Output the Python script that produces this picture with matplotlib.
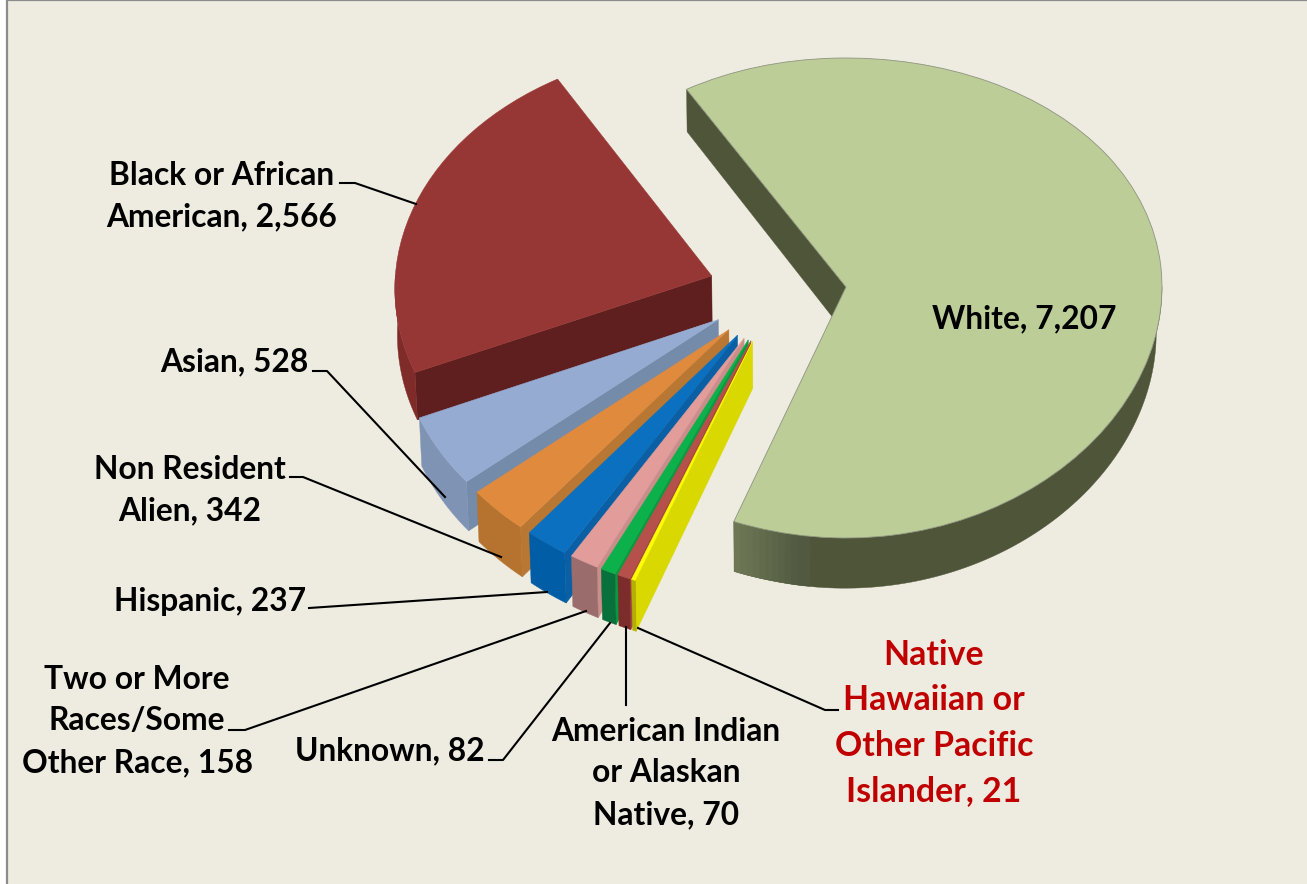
import numpy as np
import matplotlib
matplotlib.use('Agg')
import matplotlib.pyplot as plt
from matplotlib.collections import PolyCollection
from matplotlib.lines import Line2D
from matplotlib.patches import Polygon, Rectangle
from matplotlib.transforms import Transform

plt.rcParams['font.family'] = ['Lato', 'DejaVu Sans']

# data, clockwise from the top-left edge of the big slice
categories = ['White', 'Native Hawaiian or Other Pacific Islander', 'American Indian or Alaskan Native', 'Unknown',
              'Two or More Races/Some Other Race', 'Hispanic', 'Non Resident Alien', 'Asian', 'Black or African American']
counts = [7207, 21, 70, 82, 158, 237, 342, 528, 2566]

label_texts = ['White, 7,207', 'Native\nHawaiian or\nOther Pacific\nIslander, 21', 'American Indian\nor Alaskan\nNative, 70',
               'Unknown, 82', 'Two or More\nRaces/Some\nOther Race, 158', 'Hispanic, 237', 'Non Resident\nAlien, 342',
               'Asian, 528', 'Black or African\nAmerican, 2,566']

# colours per slice: top face, radial wall, outer rim
top_colors = ['#BCCD98', '#FFFF00', '#B5504B', '#0DB14B', '#E29C9A', '#0B70C0', '#E08A3E', '#95ABD2', '#973735']
wall_colors = ['#4F5539', '#D9D800', '#A9443F', '#099A40', '#C98D8A', '#0A5FA5', '#B87733', '#748BA9', '#5F1F1E']
rim_colors = ['#4F5539', '#B3B000', '#7C2C2A', '#08703A', '#9B6C6C', '#005DA6', '#B5732F', '#7F94B4', '#7E2B2A']

WIDTH, HEIGHT = 1307, 884
BACKGROUND = '#EEEBE0'
BORDER = '#8C8C8C'
EXPLODE = 0.218
DEPTH = 0.19
SHRINK = 0.015
START_ANGLE = 121

# pixel position of the pie centre and its horizontal scale
CENTER_X, SCALE_X = 777.4, 316
Y_REF, PX_REF, SCALE_Y, BEND = 0.0201, 287, 240, 11
# the left side of the pie leans with height
LEAN, LEAN_Y = 0.045, 0.095


def forward(y):
    # front of the pie is a little larger than the back
    u = np.asarray(y) - Y_REF
    return HEIGHT - (PX_REF - SCALE_Y * u + BEND * u ** 2)


def inverse(f):
    px = HEIGHT - np.asarray(f)
    root = np.sqrt(np.maximum(SCALE_Y ** 2 - 4 * BEND * (PX_REF - px), 0))
    return Y_REF + (SCALE_Y - root) / (2 * BEND)


class Lean(Transform):
    input_dims = 2
    output_dims = 2

    def transform_non_affine(self, values):
        values = np.asarray(values, dtype=float)
        x = values[:, 0] - LEAN * (values[:, 1] - LEAN_Y) * np.minimum(values[:, 0], 0)
        return np.column_stack([x, values[:, 1]])


def add_side_faces(ax, wedge, wall_color, rim_color, zorder, warp, fade_colors=None):
    cx, cy = wedge.center
    r = wedge.r

    # radial wall on the edge that faces the viewer, lower face is a bit smaller
    end = np.radians(wedge.theta2)
    ex, ey = cx + r * np.cos(end), cy + r * np.sin(end)
    low = 1 - SHRINK
    ax.add_patch(Polygon([(cx, cy), (ex, ey), (ex * low, ey - DEPTH), (cx * low, cy - DEPTH)], transform=warp,
                         facecolor=wall_color, edgecolor=wall_color, linewidth=0.3, zorder=zorder))

    # outer rim, only where it is on the front half
    t = np.radians(np.linspace(wedge.theta1, wedge.theta2, 200))
    t = t[np.sin(t) < 0.01]
    if len(t) < 2:
        return
    xs, ys = cx + r * np.cos(t), cy + r * np.sin(t)
    outline = np.concatenate([np.column_stack([xs, ys]), np.column_stack([xs * low, ys - DEPTH])[::-1]])
    ax.add_patch(Polygon(outline, transform=warp, facecolor=rim_color, edgecolor=rim_color,
                         linewidth=0.3, zorder=zorder + 0.1))

    # lighter band where the rim starts, steps overlap so no seams show
    if fade_colors is not None:
        quads = []
        for i in range(len(fade_colors)):
            quads.append([(xs[i], ys[i]), (xs[i + 2], ys[i + 2]),
                          (xs[i + 2] * low, ys[i + 2] - DEPTH), (xs[i] * low, ys[i] - DEPTH)])
        ax.add_collection(PolyCollection(quads, facecolors=fade_colors, edgecolors='none', transform=warp,
                                         zorder=zorder + 0.2))


def pixel_xy(x, y):
    return x / WIDTH, 1 - y / HEIGHT


def add_leader(fig, xs, ys):
    fx, fy = pixel_xy(np.array(xs, dtype=float), np.array(ys, dtype=float))
    fig.add_artist(Line2D(fx, fy, color='black', linewidth=1.5, transform=fig.transFigure, zorder=20))


fig = plt.figure(figsize=(WIDTH / 100, HEIGHT / 100), dpi=100, facecolor='white')
fig.add_artist(Rectangle(pixel_xy(7, HEIGHT + 5), (WIDTH + 5) / WIDTH, 1 + 5 / HEIGHT, transform=fig.transFigure,
                         facecolor=BACKGROUND, edgecolor=BORDER, linewidth=1.6, zorder=-5))

ax = fig.add_axes([0, 0, 1, 1])
ax.patch.set_visible(False)

wedges, _ = ax.pie(counts, explode=[EXPLODE] * len(counts), colors=top_colors, startangle=START_ANGLE,
                   counterclock=False, radius=1, wedgeprops={'linewidth': 0.4})

ax.set_aspect('auto')
ax.set_yscale('function', functions=(forward, inverse))
ax.set_xlim(-CENTER_X / SCALE_X, (WIDTH - CENTER_X) / SCALE_X)
ax.set_ylim(inverse(0.0), inverse(float(HEIGHT)))
ax.set_axis_off()

warp = Lean() + ax.transData

# back to front: white first, then black round to the thin slices
draw_order = [0, 8, 7, 6, 5, 4, 3, 2, 1]
white_fade = ['#6E7754', '#6B7452', '#687150', '#656E4E', '#626B4C', '#5F684A', '#5C6548', '#596246', '#565F44',
              '#535C42', '#515A40']
for n, i in enumerate(draw_order):
    z = 2 + n
    add_side_faces(ax, wedges[i], wall_colors[i], rim_colors[i], z, warp, white_fade if i == 0 else None)
    wedges[i].set_transform(warp)
    wedges[i].set_zorder(z + 0.5)
    wedges[i].set_edgecolor(top_colors[i])
wedges[0].set_edgecolor('#8E9480')
wedges[0].set_linewidth(0.6)

# leader lines
add_leader(fig, [340, 355, 416], [183, 183, 204])
add_leader(fig, [313, 327, 445], [371, 371, 497])
add_leader(fig, [290, 303, 501], [477, 477, 557])
add_leader(fig, [309, 547], [608, 592])
add_leader(fig, [229, 245, 586], [730, 730, 611])
add_leader(fig, [489, 503, 610], [760, 760, 623])
add_leader(fig, [626, 626], [705, 627])
add_leader(fig, [638, 825, 838], [628, 710, 710])

# label centres in pixels, same order as the slices
label_x = [1024, 934, 666, 390, 137, 210, 190, 234, 222]
label_y = [319, 723, 773, 751, 721, 601, 490, 362, 196]
for i, text in enumerate(label_texts):
    fx, fy = pixel_xy(label_x[i], label_y[i])
    is_red = i == 1
    fig.text(fx, fy, text, ha='center', va='center', ma='center', fontweight='bold',
             color='#C00000' if is_red else 'black', fontsize=24.4 if is_red else 22.9,
             linespacing=1.52, zorder=21)

fig.savefig('out.png', dpi=100, facecolor=fig.get_facecolor())
